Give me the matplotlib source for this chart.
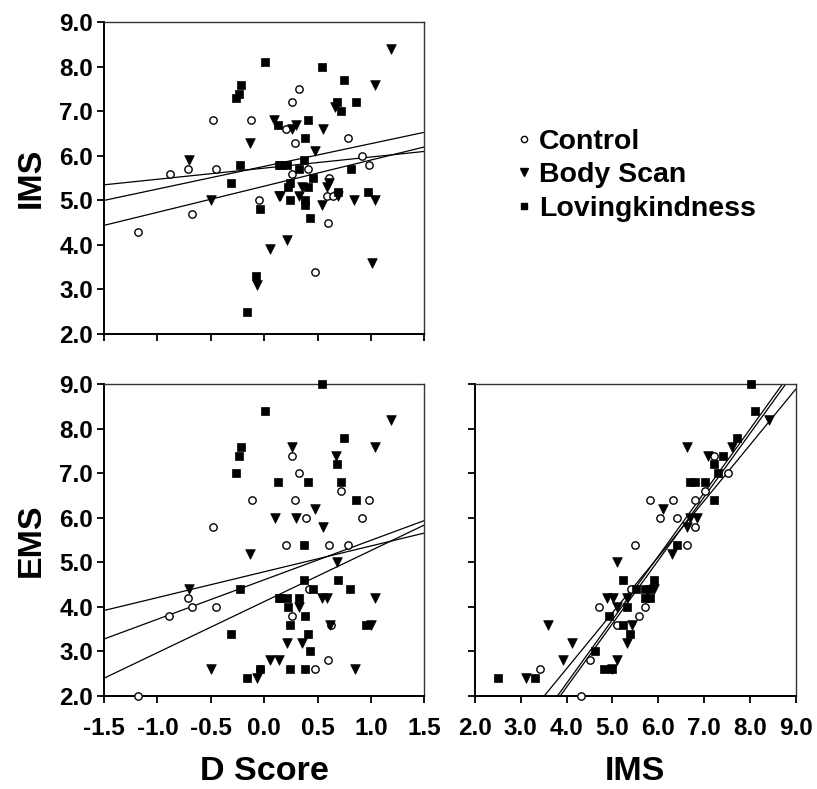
import numpy as np
import matplotlib
matplotlib.use("Agg")
import matplotlib.pyplot as plt
from matplotlib.lines import Line2D
from matplotlib.ticker import FormatStrFormatter

plt.rcParams['font.family'] = ['Liberation Sans', 'DejaVu Sans']
plt.rcParams['font.weight'] = 'bold'
plt.rcParams['axes.unicode_minus'] = False

groups = ["Control", "Body Scan", "Lovingkindness"]

# ---- Panel A: D Score vs IMS ----
a_ctrl_d = [-1.18, -0.88, -0.71, -0.68, -0.48, -0.45, -0.12, -0.05, 0.33, 0.26, 0.20, 0.29, 0.78, 0.92,
            0.98, 0.26, 0.41, 0.61, 0.59, 0.64, 0.60, 0.48]
a_ctrl_ims = [4.3, 5.6, 5.7, 4.7, 6.8, 5.7, 6.8, 5.0, 7.5, 7.2, 6.6, 6.3, 6.4, 6.0,
              5.8, 5.6, 5.7, 5.5, 5.1, 5.1, 4.5, 3.4]
a_body_d = [-0.70, -0.50, -0.13, 0.05, -0.07, 0.09, 0.14, 1.19, 1.04, 0.66, 0.30, 0.26, 0.55, 0.48,
            0.59, 0.61, 0.35, 0.15, 0.33, 0.54, 0.69, 0.84, 1.04, 0.21, 1.01]
a_body_ims = [5.9, 5.0, 6.3, 3.9, 3.1, 6.8, 5.1, 8.4, 7.6, 7.1, 6.7, 6.6, 6.6, 6.1,
              5.3, 5.4, 5.3, 5.1, 5.1, 4.9, 5.1, 5.0, 5.0, 4.1, 3.6]
a_love_d = [-0.26, -0.24, -0.22, 0.01, -0.23, -0.31, -0.04, -0.08, -0.16, 0.13, 0.14, 0.54, 0.75,
            0.68, 0.86, 0.72, 0.41, 0.38, 0.37, 0.16, 0.21, 0.33, 0.46, 0.24, 0.22, 0.41, 0.81,
            0.69, 0.97, 0.24, 0.38, 0.38, 0.43]
a_love_ims = [7.3, 7.4, 7.6, 8.1, 5.8, 5.4, 4.8, 3.3, 2.5, 6.7, 5.8, 8.0, 7.7,
              7.2, 7.2, 7.0, 6.8, 6.4, 5.9, 5.8, 5.8, 5.7, 5.5, 5.4, 5.3, 5.3, 5.7,
              5.2, 5.2, 5.0, 5.0, 4.9, 4.6]
a_fit_intercept = [5.725, 5.765, 5.32]
a_fit_slope = [0.25, 0.51, 0.587]

# ---- Panel B: D Score vs EMS ----
b_ctrl_d = [-1.18, -0.89, -0.71, -0.68, -0.48, -0.45, -0.11, -0.04, 0.26, 0.33, 0.72, 0.29, 0.98,
            0.39, 0.92, 0.20, 0.61, 0.78, 0.42, 0.26, 0.63, 0.60, 0.48]
b_ctrl_ems = [2.0, 3.8, 4.2, 4.0, 5.8, 4.0, 6.4, 2.6, 7.4, 7.0, 6.6, 6.4, 6.4,
              6.0, 6.0, 5.4, 5.4, 5.4, 4.4, 3.8, 3.6, 2.8, 2.6]
b_body_d = [-0.70, -0.50, -0.13, 0.10, 0.05, 0.14, -0.07, 1.19, 0.26, 1.04, 0.67, 0.48, 0.30,
            0.55, 0.68, 0.54, 0.59, 1.04, 0.33, 0.62, 1.00, 0.21, 0.35, 0.85]
b_body_ems = [4.4, 2.6, 5.2, 6.0, 2.8, 2.8, 2.4, 8.2, 7.6, 7.6, 7.4, 6.2, 6.0,
              5.8, 5.0, 4.2, 4.2, 4.2, 4.0, 3.6, 3.6, 3.2, 3.2, 2.6]
b_love_d = [0.01, -0.22, -0.24, -0.26, 0.13, -0.23, -0.31, -0.16, 0.14, -0.04, 0.54, 0.75, 0.68,
            0.41, 0.72, 0.86, 0.37, 0.37, 0.69, 0.46, 0.80, 0.15, 0.21, 0.33, 0.22, 0.38,
            0.24, 0.41, 0.43, 0.95, 0.24, 0.38]
b_love_ems = [8.4, 7.6, 7.4, 7.0, 6.8, 4.4, 3.4, 2.4, 4.2, 2.6, 9.0, 7.8, 7.2,
              6.8, 6.8, 6.4, 5.4, 4.6, 4.6, 4.4, 4.4, 4.2, 4.2, 4.2, 4.0, 3.8,
              3.6, 3.4, 3.0, 3.6, 2.6, 2.6]
b_fit_intercept = [4.79, 4.61, 4.12]
b_fit_slope = [0.58, 0.887, 1.147]

# ---- Panel C: IMS vs EMS ----
c_ctrl_ims = [3.41, 4.31, 4.52, 4.71, 5.10, 5.50, 5.59, 7.21, 7.52, 7.01, 5.81, 6.32, 6.81,
              6.03, 6.41, 6.81, 6.62, 5.40, 5.72]
c_ctrl_ems = [2.6, 2.0, 2.8, 4.0, 3.6, 5.4, 3.8, 7.4, 7.0, 6.6, 6.4, 6.4, 6.4,
              6.0, 6.0, 5.8, 5.4, 4.4, 4.0]
c_body_ims = [3.12, 3.60, 3.92, 4.12, 4.88, 5.01, 5.10, 5.10, 5.32, 5.10, 5.00, 5.32, 5.43,
              8.42, 7.62, 6.62, 7.08, 6.11, 6.70, 6.84, 6.62, 6.30, 5.90]
c_body_ems = [2.4, 3.6, 2.8, 3.2, 4.2, 4.2, 5.0, 4.0, 4.2, 2.8, 2.6, 3.2, 3.6,
              8.2, 7.6, 7.6, 7.4, 6.2, 6.0, 6.0, 5.8, 5.2, 4.4]
c_love_ims = [2.51, 3.31, 4.61, 4.81, 4.92, 5.22, 5.32, 5.52, 5.22, 5.38, 5.00,
              8.02, 8.11, 7.71, 7.42, 7.21, 7.31, 6.70, 6.81, 7.02, 7.21, 6.41,
              5.90, 5.72, 5.83, 5.72, 5.83]
c_love_ems = [2.4, 2.4, 3.0, 2.6, 3.8, 4.6, 4.0, 4.4, 3.6, 3.4, 2.6,
              9.0, 8.4, 7.8, 7.4, 7.2, 7.0, 6.8, 6.8, 6.8, 6.4, 5.4,
              4.6, 4.4, 4.4, 4.2, 4.2]
c_fit_intercept = [-2.405, -3.418, -3.492]
c_fit_slope = [1.255, 1.426, 1.423]

d_ticks = [-1.5, -1.0, -0.5, 0.0, 0.5, 1.0, 1.5]
score_ticks = [2.0, 3.0, 4.0, 5.0, 6.0, 7.0, 8.0, 9.0]

marker_style = {
    "Control": dict(marker='o', s=28, facecolors='white', edgecolors='black', linewidths=1.0),
    "Body Scan": dict(marker='v', s=48, facecolors='black', edgecolors='black', linewidths=0.5),
    "Lovingkindness": dict(marker='s', s=30, facecolors='black', edgecolors='black', linewidths=0.5),
}

W, H = 817, 789
fig = plt.figure(figsize=(W / 100, H / 100), dpi=100)

def px_axes(x0, y0, x1, y1):
    return fig.add_axes([x0 / W, 1 - y1 / H, (x1 - x0) / W, (y1 - y0) / H])

axA = px_axes(104, 22.3, 424.4, 334)
axB = px_axes(104, 384.3, 424.4, 696)
axC = px_axes(475, 384.3, 795.7, 696)

def style(ax, xlim, xticks, ylim, yticks, xlabels=True, ylabels=True):
    ax.set_xlim(*xlim)
    ax.set_ylim(*ylim)
    ax.set_xticks(xticks)
    ax.set_yticks(yticks)
    ax.xaxis.set_major_formatter(FormatStrFormatter('%.1f'))
    ax.yaxis.set_major_formatter(FormatStrFormatter('%.1f'))
    ax.tick_params(direction='out', length=5, width=1.3, labelsize=17.5)
    ax.tick_params(axis='x', pad=10, labelbottom=xlabels)
    ax.tick_params(axis='y', pad=3, labelleft=ylabels)
    for lab in ax.get_xticklabels() + ax.get_yticklabels():
        lab.set_fontweight('bold')
    for side in ['left', 'bottom']:
        ax.spines[side].set_linewidth(1.4)
        ax.spines[side].set_color('black')
    for side in ['top', 'right']:
        ax.spines[side].set_linewidth(1.0)
        ax.spines[side].set_color('#333333')

def draw(ax, data, fits, xlim):
    for name, (xs, ys) in zip(groups, data):
        ax.scatter(xs, ys, clip_on=False, zorder=3, **marker_style[name])
    xx = np.linspace(xlim[0], xlim[1], 200)
    for b0, b1 in zip(*fits):
        ax.plot(xx, b0 + b1 * xx, color='black', lw=0.9, zorder=2)

draw(axA, [(a_ctrl_d, a_ctrl_ims), (a_body_d, a_body_ims), (a_love_d, a_love_ims)],
     (a_fit_intercept, a_fit_slope), (-1.5, 1.5))
draw(axB, [(b_ctrl_d, b_ctrl_ems), (b_body_d, b_body_ems), (b_love_d, b_love_ems)],
     (b_fit_intercept, b_fit_slope), (-1.5, 1.5))
draw(axC, [(c_ctrl_ims, c_ctrl_ems), (c_body_ims, c_body_ems), (c_love_ims, c_love_ems)],
     (c_fit_intercept, c_fit_slope), (2.0, 9.0))

style(axA, (-1.5, 1.5), d_ticks, (2, 9), score_ticks, xlabels=False)
style(axB, (-1.5, 1.5), d_ticks, (2, 9), score_ticks)
style(axC, (2, 9), score_ticks, (2, 9), score_ticks, ylabels=False)

lab_kw = dict(fontsize=24.5, fontweight='bold')
axA.set_ylabel("IMS", labelpad=9, **lab_kw)
axB.set_ylabel("EMS", labelpad=9, **lab_kw)
axB.set_xlabel("D Score", labelpad=12, **lab_kw)
axC.set_xlabel("IMS", labelpad=12, **lab_kw)

handles = [
    Line2D([], [], marker='o', ls='none', ms=4.5, mfc='white', mec='black', mew=1.0),
    Line2D([], [], marker='v', ls='none', ms=5.5, mfc='black', mec='black'),
    Line2D([], [], marker='s', ls='none', ms=4.5, mfc='black', mec='black'),
]
fig.legend(handles, groups, loc='upper left', bbox_to_anchor=(515 / W, 1 - 129 / H),
           frameon=False, handlelength=0.6, handletextpad=0.25, labelspacing=0.26,
           borderpad=0, borderaxespad=0, prop=dict(size=20.5, weight='bold'))

fig.savefig("out.png", dpi=100)
